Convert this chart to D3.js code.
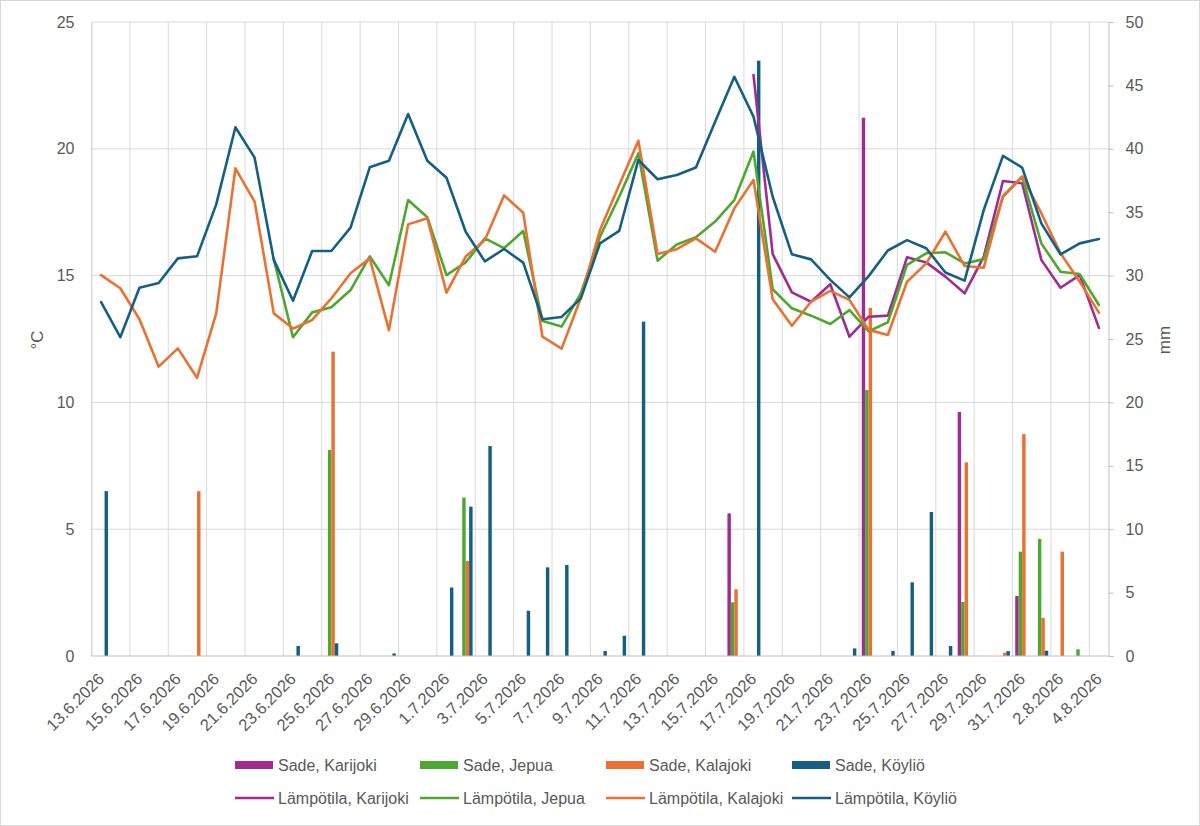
<!DOCTYPE html>
<html>
<head>
<meta charset="utf-8">
<script src="https://cdn.jsdelivr.net/npm/d3@7"></script>
<style>
  html, body { margin: 0; padding: 0; background: #fff; }
  svg { display: block; font-family: "Liberation Sans", Arial, sans-serif; }
</style>
</head>
<body>
<div id="chart"></div>
<script>
// dates, 13.6.2026 - 4.8.2026
const dates = [];
for (let d = 13; d <= 30; d++) dates.push(d + '.6.2026');
for (let d = 1; d <= 31; d++) dates.push(d + '.7.2026');
for (let d = 1; d <= 4; d++) dates.push(d + '.8.2026');

const stations = ['Karijoki', 'Jepua', 'Kalajoki', 'Köyliö'];
const colors = ['#A02B93', '#4EA72E', '#E97132', '#156082'];

// temperature, °C (null = no reading)
const tempKarijoki = [
  null, null, null, null, null, null, null, null, null, null,
  null, null, null, null, null, null, null, null, null, null,
  null, null, null, null, null, null, null, null, null, null,
  null, null, null, null, 22.91, 15.85, 14.34, 13.97, 14.66, 12.59,
  13.38, 13.42, 15.72, 15.52, 14.96, 14.3, 15.75, 18.73, 18.64, 15.62,
  14.52, 15.02, 12.94
];
const tempJepua = [
  null, null, null, null, null, null, null, null, null, 15.65,
  12.57, 13.55, 13.75, 14.43, 15.76, 14.62, 17.98, 17.3, 15.02, 15.52,
  16.47, 16.08, 16.76, 13.21, 12.99, 14.3, 16.53, 18.11, 19.82, 15.59,
  16.23, 16.51, 17.13, 17.98, 19.89, 14.46, 13.71, 13.42, 13.09, 13.64,
  12.8, 13.16, 15.42, 15.88, 15.92, 15.48, 15.65, 18.11, 18.9, 16.27,
  15.15, 15.06, 13.84
];
const tempKalajoki = [
  15.02, 14.5, 13.28, 11.41, 12.13, 10.97, 13.51, 19.23, 17.92, 13.51,
  12.91, 13.25, 14.1, 15.09, 15.68, 12.85, 17.02, 17.26, 14.33, 15.75,
  16.4, 18.16, 17.48, 12.59, 12.12, 14.12, 16.8, 18.57, 20.32, 15.85,
  16.04, 16.47, 15.94, 17.65, 18.77, 14.07, 13.02, 13.97, 14.4, 14.04,
  12.86, 12.66, 14.76, 15.48, 16.73, 15.38, 15.31, 18.14, 18.9, 17.46,
  15.88, 14.76, 13.54
];
const tempKoylio = [
  13.95, 12.57, 14.52, 14.71, 15.68, 15.76, 17.81, 20.85, 19.65, 15.62,
  14.01, 15.97, 15.97, 16.89, 19.27, 19.53, 21.37, 19.53, 18.86, 16.73,
  15.56, 16.05, 15.51, 13.28, 13.37, 14.1, 16.27, 16.76, 19.56, 18.8,
  18.97, 19.26, 21.07, 22.84, 21.27, 18.11, 15.84, 15.64, 14.83, 14.14,
  14.98, 15.99, 16.4, 16.08, 15.12, 14.8, 17.59, 19.72, 19.26, 17.06,
  15.84, 16.27, 16.44
];

// rain, mm
const rainKarijoki = [
  0, 0, 0, 0, 0, 0, 0, 0, 0, 0,
  0, 0, 0, 0, 0, 0, 0, 0, 0, 0,
  0, 0, 0, 0, 0, 0, 0, 0, 0, 0,
  0, 0, 0, 11.25, 0, 0, 0, 0, 0, 0,
  42.45, 0, 0, 0, 0, 19.24, 0, 0, 4.73, 0,
  0, 0, 0
];
const rainJepua = [
  0, 0, 0, 0, 0, 0, 0, 0, 0, 0,
  0, 0, 16.25, 0, 0, 0, 0, 0, 0, 12.49,
  0, 0, 0, 0, 0, 0, 0, 0, 0, 0,
  0, 0, 0, 4.23, 0, 0, 0, 0, 0, 0,
  20.98, 0, 0, 0, 0, 4.26, 0, 0, 8.23, 9.23,
  0, 0.53, 0
];
const rainKalajoki = [
  0, 0, 0, 0, 0, 13.0, 0, 0, 0, 0,
  0, 0, 24.0, 0, 0, 0, 0, 0, 0, 7.49,
  0, 0, 0, 0, 0, 0, 0, 0, 0, 0,
  0, 0, 0, 5.26, 0, 0, 0, 0, 0, 0,
  27.45, 0, 0, 0, 0, 15.27, 0, 0.26, 17.5, 3.0,
  8.23, 0, 0
];
const rainKoylio = [
  13.0, 0, 0, 0, 0, 0, 0, 0, 0, 0,
  0.79, 0, 1.0, 0, 0, 0.2, 0, 0, 5.4, 11.78,
  16.56, 0, 3.57, 6.99, 7.18, 0, 0.39, 1.6, 26.37, 0,
  0, 0, 0, 0, 46.95, 0, 0, 0, 0, 0.6,
  0, 0.4, 5.81, 11.36, 0.79, 0, 0, 0.39, 0, 0.42,
  0, 0, 0
];

const tempSeries = [tempKarijoki, tempJepua, tempKalajoki, tempKoylio];
const rainSeries = [rainKarijoki, rainJepua, rainKalajoki, rainKoylio];

const tempTicks = [0, 5, 10, 15, 20, 25];
const rainTicks = [0, 5, 10, 15, 20, 25, 30, 35, 40, 45, 50];

const width = 1200, height = 826;
const plot = {left: 91.5, right: 1108.5, top: 22, bottom: 656};
const textColor = '#595959';
const gridColor = '#d9d9d9';

const svg = d3.select('#chart').append('svg')
  .attr('width', width)
  .attr('height', height)
  .attr('viewBox', [0, 0, width, height]);

// outer border
svg.append('rect')
  .attr('x', 0.5).attr('y', 0.5)
  .attr('width', width - 1).attr('height', height - 1)
  .attr('fill', '#fff')
  .attr('stroke', gridColor);

const x = d3.scaleBand()
  .domain(dates)
  .range([plot.left, plot.right]);

// the four rain bars of one day share the middle of the band
const groupFrac = 0.72;
const xBar = d3.scaleBand()
  .domain(stations)
  .range([x.bandwidth() * (1 - groupFrac) / 2, x.bandwidth() * (1 + groupFrac) / 2]);

const yTemp = d3.scaleLinear().domain([0, 25]).range([plot.bottom, plot.top]);
const yRain = d3.scaleLinear().domain([0, 50]).range([plot.bottom, plot.top]);

// horizontal gridlines
svg.append('g')
  .selectAll('line')
  .data(tempTicks.filter(t => t > 0))
  .join('line')
  .attr('x1', plot.left).attr('x2', plot.right)
  .attr('y1', d => yTemp(d)).attr('y2', d => yTemp(d))
  .attr('stroke', gridColor)
  .attr('stroke-width', 1);

// vertical gridlines every second day
svg.append('g')
  .selectAll('line')
  .data(dates.filter((d, i) => i % 2 === 0))
  .join('line')
  .attr('x1', d => x(d)).attr('x2', d => x(d))
  .attr('y1', plot.top).attr('y2', plot.bottom)
  .attr('stroke', gridColor)
  .attr('stroke-width', 1);

// left axis
const leftAxis = svg.append('g')
  .attr('transform', `translate(${plot.left},0)`)
  .call(d3.axisLeft(yTemp).tickValues(tempTicks).tickSize(0).tickPadding(17));
leftAxis.select('.domain').attr('stroke', gridColor);
leftAxis.selectAll('text')
  .attr('fill', textColor)
  .style('font-size', '16px')
  .style('font-family', '"Liberation Sans", Arial, sans-serif');

// right axis
const rightAxis = svg.append('g')
  .attr('transform', `translate(${plot.right},0)`)
  .call(d3.axisRight(yRain).tickValues(rainTicks).tickSize(5).tickPadding(12));
rightAxis.select('.domain').attr('stroke', '#bfbfbf');
rightAxis.selectAll('.tick line').attr('stroke', '#bfbfbf');
rightAxis.selectAll('text')
  .attr('fill', textColor)
  .style('font-size', '16px')
  .style('font-family', '"Liberation Sans", Arial, sans-serif');

// axis titles
svg.append('text')
  .attr('transform', `translate(43,340) rotate(-90)`)
  .attr('text-anchor', 'middle')
  .attr('fill', textColor)
  .style('font-size', '17px')
  .text('°C');
svg.append('text')
  .attr('transform', `translate(1170,340) rotate(-90)`)
  .attr('text-anchor', 'middle')
  .attr('fill', textColor)
  .style('font-size', '17px')
  .text('mm');

// rain bars
stations.forEach((name, s) => {
  svg.append('g')
    .selectAll('rect')
    .data(dates.map((d, i) => ({date: d, v: rainSeries[s][i]})).filter(o => o.v > 0))
    .join('rect')
    .attr('x', o => x(o.date) + xBar(name))
    .attr('width', xBar.bandwidth())
    .attr('y', o => yRain(o.v))
    .attr('height', o => yRain(0) - yRain(o.v))
    .attr('fill', colors[s]);
});

// bottom axis
svg.append('line')
  .attr('x1', plot.left).attr('x2', plot.right)
  .attr('y1', plot.bottom).attr('y2', plot.bottom)
  .attr('stroke', '#bfbfbf')
  .attr('stroke-width', 1.2);

// temperature lines
const line = d3.line()
  .defined(d => d.v != null)
  .x(d => x(d.date) + x.bandwidth() / 2)
  .y(d => yTemp(d.v));

stations.forEach((name, s) => {
  svg.append('path')
    .datum(dates.map((d, i) => ({date: d, v: tempSeries[s][i]})))
    .attr('d', line)
    .attr('fill', 'none')
    .attr('stroke', colors[s])
    .attr('stroke-width', 2.6)
    .attr('stroke-linejoin', 'round')
    .attr('stroke-linecap', 'round');
});

// date labels, every second day
svg.append('g')
  .selectAll('text')
  .data(dates.filter((d, i) => i % 2 === 0))
  .join('text')
  .attr('transform', d => `translate(${x(d) + x.bandwidth() / 2},${plot.bottom + 20}) rotate(-45)`)
  .attr('text-anchor', 'end')
  .attr('dy', '0.35em')
  .attr('fill', textColor)
  .style('font-size', '16.5px')
  .text(d => d);

// legend
const legendX = [235, 420, 606, 792];
const legend = svg.append('g');
stations.forEach((name, s) => {
  legend.append('rect')
    .attr('x', legendX[s]).attr('y', 761)
    .attr('width', 38).attr('height', 8)
    .attr('fill', colors[s]);
  legend.append('text')
    .attr('x', legendX[s] + 43).attr('y', 765)
    .attr('dy', '0.35em')
    .attr('fill', textColor)
    .style('font-size', '16px')
    .text('Sade, ' + name);
  legend.append('line')
    .attr('x1', legendX[s]).attr('x2', legendX[s] + 39)
    .attr('y1', 798).attr('y2', 798)
    .attr('stroke', colors[s])
    .attr('stroke-width', 2.6);
  legend.append('text')
    .attr('x', legendX[s] + 43).attr('y', 798)
    .attr('dy', '0.35em')
    .attr('fill', textColor)
    .style('font-size', '16px')
    .text('Lämpötila, ' + name);
});
</script>
</body>
</html>
